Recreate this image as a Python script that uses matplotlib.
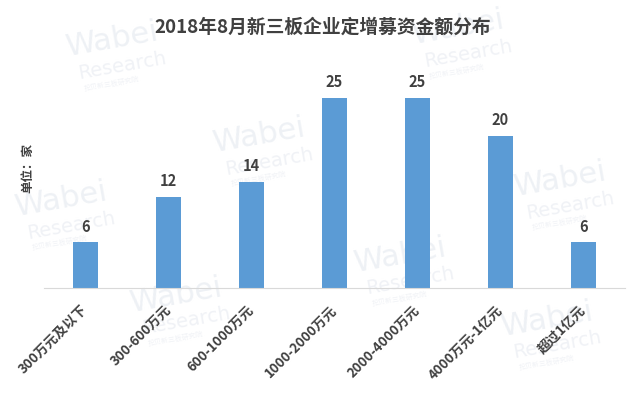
import matplotlib.pyplot as plt

plt.rcParams['font.family'] = ['Noto Sans CJK SC', 'DejaVu Sans']

# 数据
categories = ['300万元及以下', '300-600万元', '600-1000万元', '1000-2000万元',
              '2000-4000万元', '4000万元-1亿元', '超过1亿元']
counts = [6, 12, 14, 25, 25, 20, 6]

fig = plt.figure(figsize=(6.4, 3.99), dpi=100)

# 水印（淡色，置于图表之下）
wm_pos = [(0.10, 0.90), (0.33, 0.66), (0.64, 0.93), (0.80, 0.55),
          (0.02, 0.50), (0.20, 0.26), (0.55, 0.36), (0.78, 0.20)]
for x, y in wm_pos:
    fig.text(x, y, 'Wabei', fontsize=22, color='#eef1f5', rotation=10,
             ha='left', va='center', family='DejaVu Sans', zorder=-5)
    fig.text(x + 0.02, y - 0.065, 'Research', fontsize=14, color='#f0f2f6', rotation=10,
             ha='left', va='center', family='DejaVu Sans', zorder=-5)
    fig.text(x + 0.03, y - 0.11, '挖贝新三板研究院', fontsize=5, color='#f0f2f6', rotation=10,
             ha='left', va='center', zorder=-5)

ax = fig.add_axes([44 / 640, 111 / 399, 581 / 640, 228 / 399])
ax.patch.set_alpha(0)
bars = ax.bar(range(len(categories)), counts, width=0.31, color='#5B9BD5', zorder=2)
for b, v in zip(bars, counts):
    ax.text(b.get_x() + b.get_width() / 2, v + 1.0, str(v), ha='center', va='bottom',
            fontsize=10.5, fontweight='bold', color='#404040')

ax.set_xlim(-0.5, len(categories) - 0.5)
ax.set_ylim(0, 30)
ax.set_yticks([])
ax.set_xticks(range(len(categories)))
ax.set_xticklabels(categories, rotation=45, ha='right', va='center', rotation_mode='anchor',
                   fontsize=9.6, fontweight='bold', color='#404040')
ax.tick_params(axis='x', length=0, pad=14)
for s in ['top', 'right', 'left']:
    ax.spines[s].set_visible(False)
ax.spines['bottom'].set_color('#d9d9d9')

fig.text(28 / 640, 1 - 168 / 399, '单位：家', rotation=90, ha='center', va='center',
         fontsize=9, fontweight='bold', color='#404040')
fig.text(0.505, 1 - 27 / 399, '2018年8月新三板企业定增募资金额分布', ha='center', va='center',
         fontsize=13.5, fontweight='bold', color='#404040')

fig.savefig('out.png', dpi=100)
